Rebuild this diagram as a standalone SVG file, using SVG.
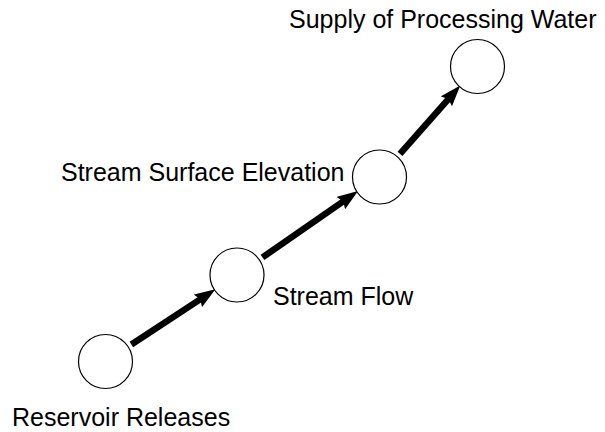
<svg xmlns="http://www.w3.org/2000/svg" width="605" height="432" viewBox="0 0 605 432">
<style>
.node circle{fill:#fff;stroke:#000;stroke-width:1.2}
.lbl{font-family:"Liberation Sans",Arial,sans-serif;font-size:25px;fill:#000}
.edge{stroke:#000;stroke-width:6.5;fill:none;marker-end:url(#ah)}
</style>
<defs>
<marker id="ah" markerUnits="userSpaceOnUse" markerWidth="24" markerHeight="16" refX="10" refY="7.5" orient="auto">
<path d="M0,0 L21,7.5 L0,15 L3,7.5 z" fill="#000"/>
</marker>
</defs>
<rect width="605" height="432" fill="#fff"/>
<g id="connectors">
<line class="edge" x1="131.4" y1="344.5" x2="206.2" y2="295.4"/>
<line class="edge" x1="262.5" y1="257.4" x2="349" y2="197.3"/>
<line class="edge" x1="400" y1="153.8" x2="453" y2="93.8"/>
</g>
<g id="reservoir" class="node">
<circle cx="105.5" cy="361.5" r="27"/>
<text class="lbl" x="12" y="426">Reservoir Releases</text>
</g>
<g id="streamflow" class="node">
<circle cx="237" cy="275" r="27"/>
<text class="lbl" x="273" y="305">Stream Flow</text>
</g>
<g id="elevation" class="node">
<circle cx="379.5" cy="177" r="27"/>
<text class="lbl" x="61" y="181">Stream Surface Elevation</text>
</g>
<g id="supply" class="node">
<circle cx="477.5" cy="66.5" r="27"/>
<text class="lbl" x="289" y="28">Supply of Processing Water</text>
</g>
</svg>
